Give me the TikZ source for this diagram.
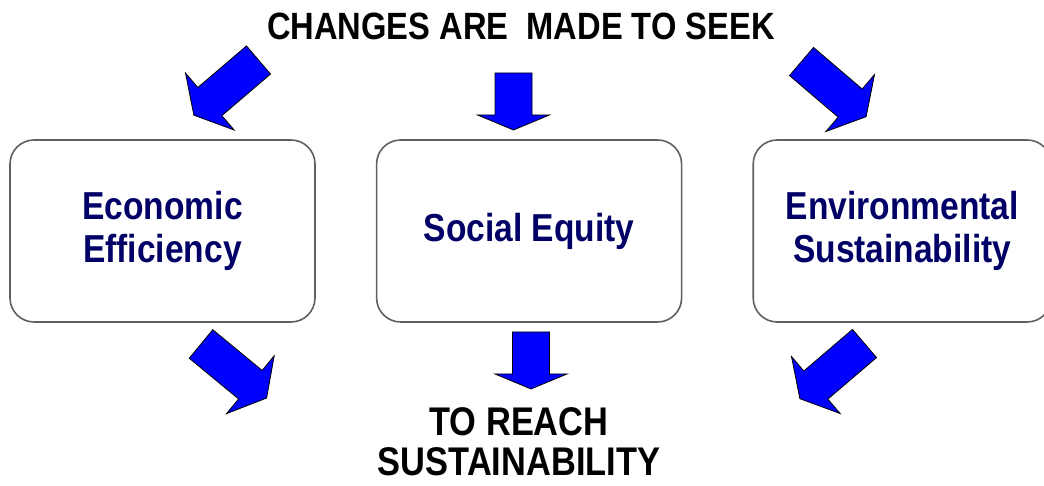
\documentclass[tikz,border=0pt]{standalone}
\usepackage{fontspec}
\newfontfamily\slidefont{Liberation Sans}[FakeStretch=0.86]
\usetikzlibrary{positioning}
\definecolor{boxtext}{RGB}{0,0,102}
\definecolor{boxline}{RGB}{96,96,96}

\begin{document}
\begin{tikzpicture}[x=1pt,y=1pt,
  goal box/.style={draw=boxline,line width=1.6pt,rounded corners=24pt,fill=white,
    minimum width=305pt,minimum height=182pt,align=center,text=boxtext,
    font=\slidefont\bfseries\fontsize{39}{43}\selectfont},
  head text/.style={align=center,font=\slidefont\bfseries\fontsize{38}{41}\selectfont},
  arrow body/.style={fill=blue,draw=black,line width=0.8pt,line join=miter},
  pics/block arrow/.style n args={3}{code={
    \draw[arrow body] (0,18.5) -- (#1,18.5) -- (#1,#2) -- ({#1+#3},0)
      -- (#1,-#2) -- (#1,-18.5) -- (0,-18.5) -- cycle;}}]
  \useasboundingbox (0,0) rectangle (1044,486);
  \node[head text,anchor=base] (seek) at (521,446) {CHANGES ARE\ \ MADE TO SEEK};
  \node[goal box] (econ) at (162.5,255) {Economic\\Efficiency};
  \node[goal box] (social) [right=60pt of econ] {Social Equity};
  \node[goal box,minimum width=298pt] (env) [right=70pt of social] {Environmental\\Sustainability};
  \node[head text,inner sep=1pt,font=\slidefont\bfseries\fontsize{40}{40}\selectfont] (reach) at (519,44) {TO REACH\\SUSTAINABILITY};
  % arrows into the boxes
  \pic[rotate=220.5] at (258.5,426) {block arrow={64}{37.5}{21}};
  \pic[rotate=-90] at (513.5,413) {block arrow={42}{36}{15}};
  \pic[rotate=-40.5] at (801.5,424.5) {block arrow={64}{37.5}{21}};
  % arrows out of the boxes
  \pic[rotate=-39.5] at (201,142) {block arrow={64}{37.5}{21}};
  \pic[rotate=-90] at (531,154) {block arrow={42}{36}{15}};
  \pic[rotate=220.5] at (864.5,142.5) {block arrow={64}{37.5}{21}};
\end{tikzpicture}
\end{document}
